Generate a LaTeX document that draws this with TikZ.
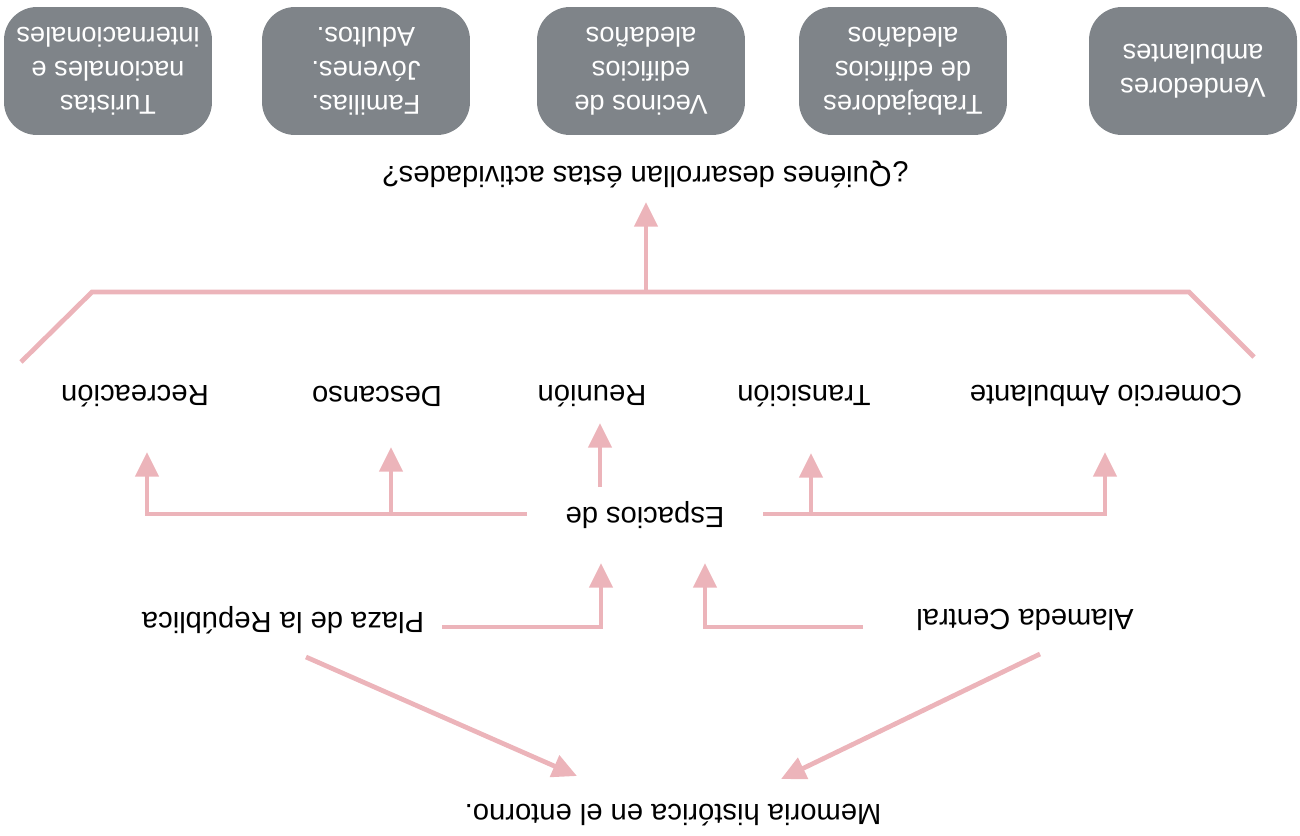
\documentclass[tikz,border=0pt]{standalone}
\usepackage{fontspec}
\setmainfont{Liberation Sans}
\usetikzlibrary{arrows.meta}
\definecolor{linkpink}{RGB}{236,180,186}
\definecolor{boxgray}{RGB}{127,132,137}
\begin{document}
\begin{tikzpicture}[x=0.02cm,y=-0.02cm,
  lbl/.style={rotate=180,inner sep=0pt,font=\fontsize{16.6}{19}\selectfont,text=black},
  graybox/.style={rotate=180,fill=boxgray,rounded corners=0.66cm,minimum width=4.16cm,minimum height=2.56cm,inner sep=0pt,align=center,text=white,font=\fontsize{15.5}{19.2}\selectfont},
  link/.style={draw=linkpink,line width=2.7pt,line join=miter},
  arr/.style={link,-{Triangle[length=14pt,width=13pt]}}]
\useasboundingbox (0,0) rectangle (1300,835);
% boxes
\node[graybox] (b1) at (108,71) {Turistas\\nacionales e\\internacionales};
\node[graybox] (b2) at (366,71) {Familias.\\Jóvenes.\\Adultos.};
\node[graybox] (b3) at (641,71) {Vecinos de\\edificios\\aledaños};
\node[graybox] (b4) at (903,71) {Trabajadores\\de edificios\\aledaños};
\node[graybox] (b5) at (1193,71) {Vendedores\\ambulantes};
% question
\node[lbl] (q) at (646,174) {¿Quiénes desarrollan éstas actividades?};
% activity labels
\node[lbl] (rec) at (135,396) {Recreación};
\node[lbl] (des) at (377,396) {Descanso};
\node[lbl] (reu) at (592,396) {Reunión};
\node[lbl] (tra) at (804,396) {Transición};
\node[lbl] (com) at (1106,396) {Comercio Ambulante};
% middle
\node[lbl] (esp) at (645,515) {Espacios de};
\node[lbl] (pla) at (283,620) {Plaza de la República};
\node[lbl] (ala) at (1025,620) {Alameda Central};
\node[lbl] (mem) at (673,815) {Memoria histórica en el entorno.};
% coordinates for connectors
\coordinate (barL) at (92,292);
\coordinate (barR) at (1189,292);
\coordinate (barLend) at (21,362);
\coordinate (barRend) at (1254,357);
\coordinate (barM) at (646,292);
\coordinate (qtip) at (646,202);
\coordinate (eL) at (527,514);
\coordinate (eR) at (763,514);
\coordinate (cRec) at (147,514);
\coordinate (tRec) at (147,452);
\coordinate (cDes) at (391,514);
\coordinate (tDes) at (391,447);
\coordinate (sReu) at (600,487);
\coordinate (tReu) at (600,423);
\coordinate (cTra) at (811,514);
\coordinate (tTra) at (811,453);
\coordinate (cCom) at (1105,514);
\coordinate (tCom) at (1105,452);
\coordinate (pS) at (442,627);
\coordinate (pC) at (601,627);
\coordinate (pT) at (601,563);
\coordinate (aS) at (863,627);
\coordinate (aC) at (705,627);
\coordinate (aT) at (705,563);
\coordinate (dLs) at (306,657);
\coordinate (dLt) at (577,776);
\coordinate (dRs) at (1040,654);
\coordinate (dRt) at (781,779);
% connectors
\draw[link] (barLend) -- (barL) -- (barR) -- (barRend);
\draw[arr] (barM) -- (qtip);
\draw[link] (eL) -- (cDes);
\draw[arr] (cDes) -- (cRec) -- (tRec);
\draw[arr] (cDes) -- (tDes);
\draw[arr] (sReu) -- (tReu);
\draw[link] (eR) -- (cTra);
\draw[arr] (cTra) -- (cCom) -- (tCom);
\draw[arr] (cTra) -- (tTra);
\draw[arr] (pS) -- (pC) -- (pT);
\draw[arr] (aS) -- (aC) -- (aT);
\draw[arr] (dLs) -- (dLt);
\draw[arr] (dRs) -- (dRt);
\end{tikzpicture}
\end{document}
